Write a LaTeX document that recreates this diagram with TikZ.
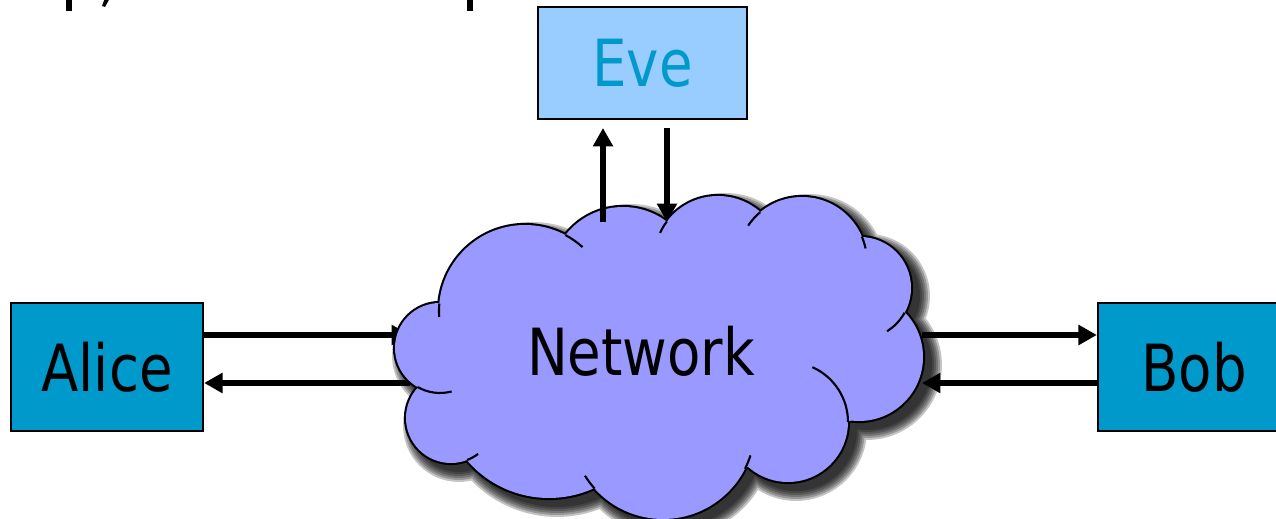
\documentclass[tikz,border=0pt]{standalone}
\usepackage{fontspec}
\setmainfont{DejaVu Sans}[FakeStretch=0.84]
\usetikzlibrary{arrows.meta}
\definecolor{boxblue}{HTML}{0099CC}
\definecolor{evefill}{HTML}{99CCFF}
\definecolor{cloudfill}{HTML}{9999FF}

% cloud bumps: centre x / centre y / radius (one unit = one pixel, y pointing down)
\def\bumps{440/348/45, 451/418/45, 549/390/108, 663/427/92, 788/422/60,
  859/357/64, 860/288/51, 802/262/65, 718/260/64, 623/280/73, 525/311/86}

\begin{document}
\begin{tikzpicture}[x=0.02cm, y=-0.02cm,
  bigfont/.style={font=\fontsize{37}{44}\selectfont},
  party/.style={draw=black, line width=1.3pt, fill=boxblue, bigfont,
    minimum width=3.84cm, minimum height=2.56cm, inner sep=0pt},
  spy/.style={draw=black, line width=1.3pt, fill=evefill, text=boxblue, bigfont,
    minimum width=4.18cm, minimum height=2.24cm, inner sep=0pt},
  msg/.style={line width=3.3pt, -{Triangle[length=10.5pt,width=11pt]}},
  cloudline/.style={draw=black, line width=1.2pt},
]
\useasboundingbox (0,0) rectangle (1276,519);

% remnants of a text line above the picture
\fill (66,-2) rectangle (72,11);
\fill (105,-2) -- (110,-2) -- (105,7) -- (102,6) -- cycle;
\fill (467,-2) rectangle (473,11);

% parties
\node[party] (alice) at (107,367) {Alice};
\node[party] (bob) at (1194,367) {Bob};
\node[spy] (eve) at (642.5,63) {Eve};

% anchor points on the cloud rim
\coordinate (yTop) at (0,335);
\coordinate (yBot) at (0,383);
\coordinate (netW) at (410,359);
\coordinate (netE) at (922,359);
\coordinate (netUp) at (603,222);
\coordinate (netDn) at (667,222);

% soft drop shadow of the cloud, built from stacked translucent layers
\foreach \w in {22,18,14,10,6,2} {
  \begin{scope}[transparency group, opacity=0.23, shift={(8,8)}]
    \path[fill=black, draw=black, line width=\w*0.567pt]
      foreach \a/\b/\r in \bumps { (\a,\b) circle[radius=\r] };
    \path[fill=black] (442,303) -- (565,235) -- (667,222) -- (760,212) -- (862,237)
      -- (905,313) -- (852,420) -- (745,468) -- (595,488) -- (467,460) -- (418,387) -- cycle;
  \end{scope}
}

% horizontal messages (passing under the cloud)
\draw[msg] (alice.east |- yTop) -- (netW |- yTop);
\draw[msg] (netW |- yBot) -- (alice.east |- yBot);
\draw[msg] (netE |- yTop) -- (bob.west |- yTop);
\draw[msg] (bob.west |- yBot) -- (netE |- yBot);

% the cloud: outline of the bumps, then the fill, then the inner creases
\path[draw=black, line width=2.4pt]
  foreach \a/\b/\r in \bumps { (\a,\b) circle[radius=\r] };
\path[fill=cloudfill]
  foreach \a/\b/\r in \bumps { (\a,\b) circle[radius=\r] };
\path[fill=cloudfill] (442,303) -- (565,235) -- (667,222) -- (760,212) -- (862,237)
  -- (905,313) -- (852,420) -- (745,468) -- (595,488) -- (467,460) -- (418,387) -- cycle;

\draw[cloudline] (525,311) ++(-62:86) arc[start angle=-62, end angle=-48, radius=86];
\draw[cloudline] (525,311) ++(185:86) arc[start angle=185, end angle=176, radius=86];
\draw[cloudline] (718,260) ++(217:64) arc[start angle=217, end angle=205, radius=64];
\draw[cloudline] (802,262) ++(230:65) arc[start angle=230, end angle=214, radius=65];
\draw[cloudline] (802,262) ++(-23:65) arc[start angle=-23, end angle=-12, radius=65];
\draw[cloudline] (860,288) ++(29:51) arc[start angle=29, end angle=58, radius=51];
\draw[cloudline] (788,422) ++(0:60) arc[start angle=0, end angle=-66, radius=60];
\draw[cloudline] (663,427) ++(27:92) arc[start angle=27, end angle=18, radius=92];
\draw[cloudline] (663,427) ++(138:92) arc[start angle=138, end angle=148, radius=92];
\draw[cloudline] (451,418) ++(69:45) arc[start angle=69, end angle=53, radius=45];
\draw[cloudline] (440,348) ++(120:45) arc[start angle=120, end angle=75, radius=45];

\node[bigfont, inner sep=0pt] (net) at (641,351) {Network};

% messages to and from Eve
\draw[msg, shorten >=4.5pt] (netUp) -- (netUp |- eve.south);
\draw[msg, shorten <=4.5pt] (netDn |- eve.south) -- (netDn);
\end{tikzpicture}
\end{document}
